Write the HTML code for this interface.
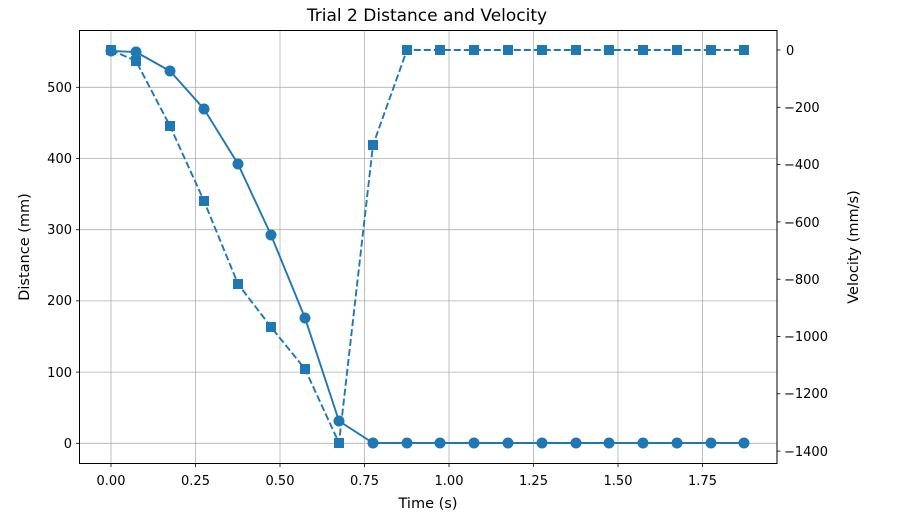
<!DOCTYPE html>
<html><head><meta charset="utf-8"><style>body{margin:0;background:#fff}svg{display:block;font-family:"DejaVu Sans","Liberation Sans",sans-serif}</style></head><body>
<svg width="912" height="522" xmlns="http://www.w3.org/2000/svg">
<rect width="912" height="522" fill="#fff"/>
<g stroke="#b0b0b0" stroke-width="0.8">
<line x1="111" y1="30.5" x2="111" y2="463.5"/><line x1="195.5" y1="30.5" x2="195.5" y2="463.5"/><line x1="280" y1="30.5" x2="280" y2="463.5"/><line x1="364.5" y1="30.5" x2="364.5" y2="463.5"/><line x1="449" y1="30.5" x2="449" y2="463.5"/><line x1="533.5" y1="30.5" x2="533.5" y2="463.5"/><line x1="618" y1="30.5" x2="618" y2="463.5"/><line x1="702.5" y1="30.5" x2="702.5" y2="463.5"/>
<line x1="79.5" y1="443.3" x2="777" y2="443.3"/><line x1="79.5" y1="372.1" x2="777" y2="372.1"/><line x1="79.5" y1="300.9" x2="777" y2="300.9"/><line x1="79.5" y1="229.7" x2="777" y2="229.7"/><line x1="79.5" y1="158.5" x2="777" y2="158.5"/><line x1="79.5" y1="87.3" x2="777" y2="87.3"/>
</g>
<g fill="none" stroke="#1f77b4" stroke-width="1.9">
<polyline points="111,51 136,52 170,71 204,109 238,164 271,235 305,318 339,421 373,443 407,443 440,443 474,443 508,443 542,443 576,443 609,443 643,443 677,443 711,443 744,443"/>
<polyline stroke-dasharray="7,3" points="111,50 136,61 170,126 204,201 238,284 271,327 305,369 339,443 373,145 407,50 440,50 474,50 508,50 542,50 576,50 609,50 643,50 677,50 711,50 744,50"/>
</g>
<g fill="#1f77b4">
<circle cx="111" cy="51" r="5.5"/><circle cx="136" cy="52" r="5.5"/><circle cx="170" cy="71" r="5.5"/><circle cx="204" cy="109" r="5.5"/><circle cx="238" cy="164" r="5.5"/><circle cx="271" cy="235" r="5.5"/><circle cx="305" cy="318" r="5.5"/><circle cx="339" cy="421" r="5.5"/><circle cx="373" cy="443" r="5.5"/><circle cx="407" cy="443" r="5.5"/><circle cx="440" cy="443" r="5.5"/><circle cx="474" cy="443" r="5.5"/><circle cx="508" cy="443" r="5.5"/><circle cx="542" cy="443" r="5.5"/><circle cx="576" cy="443" r="5.5"/><circle cx="609" cy="443" r="5.5"/><circle cx="643" cy="443" r="5.5"/><circle cx="677" cy="443" r="5.5"/><circle cx="711" cy="443" r="5.5"/><circle cx="744" cy="443" r="5.5"/>
<g transform="translate(-5,-5)">
<rect x="111" y="50" width="10" height="10"/><rect x="136" y="61" width="10" height="10"/><rect x="170" y="126" width="10" height="10"/><rect x="204" y="201" width="10" height="10"/><rect x="238" y="284" width="10" height="10"/><rect x="271" y="327" width="10" height="10"/><rect x="305" y="369" width="10" height="10"/><rect x="339" y="443" width="10" height="10"/><rect x="373" y="145" width="10" height="10"/><rect x="407" y="50" width="10" height="10"/><rect x="440" y="50" width="10" height="10"/><rect x="474" y="50" width="10" height="10"/><rect x="508" y="50" width="10" height="10"/><rect x="542" y="50" width="10" height="10"/><rect x="576" y="50" width="10" height="10"/><rect x="609" y="50" width="10" height="10"/><rect x="643" y="50" width="10" height="10"/><rect x="677" y="50" width="10" height="10"/><rect x="711" y="50" width="10" height="10"/><rect x="744" y="50" width="10" height="10"/>
</g></g>
<rect x="79.5" y="30.5" width="697.5" height="433" fill="none" stroke="#000" stroke-width="1"/>
<g stroke="#000" stroke-width="0.8">
<line x1="111" y1="463.5" x2="111" y2="467"/><line x1="195.5" y1="463.5" x2="195.5" y2="467"/><line x1="280" y1="463.5" x2="280" y2="467"/><line x1="364.5" y1="463.5" x2="364.5" y2="467"/><line x1="449" y1="463.5" x2="449" y2="467"/><line x1="533.5" y1="463.5" x2="533.5" y2="467"/><line x1="618" y1="463.5" x2="618" y2="467"/><line x1="702.5" y1="463.5" x2="702.5" y2="467"/>
<line x1="76" y1="443.3" x2="79.5" y2="443.3"/><line x1="76" y1="372.1" x2="79.5" y2="372.1"/><line x1="76" y1="300.9" x2="79.5" y2="300.9"/><line x1="76" y1="229.7" x2="79.5" y2="229.7"/><line x1="76" y1="158.5" x2="79.5" y2="158.5"/><line x1="76" y1="87.3" x2="79.5" y2="87.3"/>
<line x1="777" y1="50" x2="780.5" y2="50"/><line x1="777" y1="107.3" x2="780.5" y2="107.3"/><line x1="777" y1="164.6" x2="780.5" y2="164.6"/><line x1="777" y1="221.9" x2="780.5" y2="221.9"/><line x1="777" y1="279.2" x2="780.5" y2="279.2"/><line x1="777" y1="336.5" x2="780.5" y2="336.5"/><line x1="777" y1="393.8" x2="780.5" y2="393.8"/><line x1="777" y1="451.1" x2="780.5" y2="451.1"/>
</g>
<g font-size="13" fill="#000" text-anchor="middle">
<text x="111" y="485">0.00</text><text x="195.5" y="485">0.25</text><text x="280" y="485">0.50</text><text x="364.5" y="485">0.75</text><text x="449" y="485">1.00</text><text x="533.5" y="485">1.25</text><text x="618" y="485">1.50</text><text x="702.5" y="485">1.75</text>
<text x="428" y="508" font-size="14.5">Time (s)</text>
<text x="427" y="21" font-size="17">Trial 2 Distance and Velocity</text>
</g>
<g font-size="13" fill="#000" text-anchor="end">
<text x="72" y="448">0</text><text x="72" y="377">100</text><text x="72" y="305">200</text><text x="72" y="234">300</text><text x="72" y="163">400</text><text x="72" y="92">500</text>
</g>
<g font-size="13" fill="#000">
<text x="786" y="55">0</text><text x="784" y="112">−200</text><text x="784" y="169">−400</text><text x="784" y="227">−600</text><text x="784" y="284">−800</text><text x="784" y="341">−1000</text><text x="784" y="398">−1200</text><text x="784" y="456">−1400</text>
</g>
<text transform="translate(29,247) rotate(-90)" font-size="14.5" text-anchor="middle">Distance (mm)</text>
<text transform="translate(858,247) rotate(-90)" font-size="14.5" text-anchor="middle">Velocity (mm/s)</text>
</svg>
</body></html>
